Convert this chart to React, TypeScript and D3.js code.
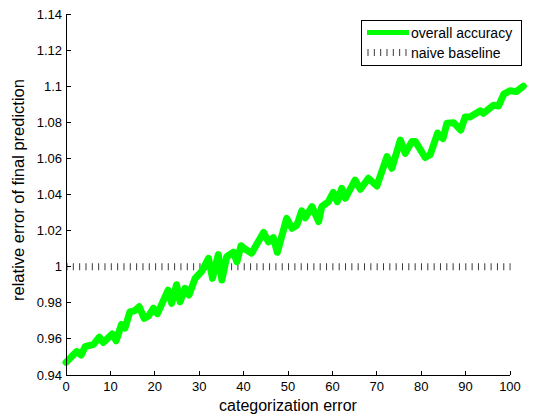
import React from "react";
import * as d3 from "d3";

// Categorization error (x) against relative error of the final prediction (y)
const errorLevels = [
  0, 2.4, 3.4, 4.3, 6.2, 7.5, 8.4, 10.4, 11.3, 12.5, 13.3, 14.4, 15.5, 16.5, 17.6,
  18.6, 19.7, 20.6, 23, 23.8, 24.9, 25.7, 26.8, 27.7, 29.1, 30.6, 32.1, 33, 34.3,
  35.1, 36.2, 37.7, 38.5, 39.4, 40.3, 41.8, 44.5, 45.6, 46.7, 47.6, 49.7, 50.9,
  52, 53.1, 53.9, 55.4, 56.9, 57.6, 59.1, 60.2, 61.1, 62.1, 62.9, 65.1, 66.3,
  68.1, 70, 72.3, 73.4, 75.3, 76.4, 77.9, 78.7, 80.9, 82, 83.7, 84.9, 85.8, 87.3,
  88.9, 89.9, 91, 93.3, 94, 96.3, 97.4, 98.6, 100, 101.4, 103,
];
const overallAccuracy = [
  0.947, 0.953, 0.951, 0.9557, 0.957, 0.961, 0.958, 0.9627, 0.959, 0.968, 0.966,
  0.975, 0.9757, 0.9778, 0.9714, 0.9727, 0.977, 0.974, 0.987, 0.9797, 0.99,
  0.9806, 0.988, 0.9843, 0.9936, 0.9976, 1.0046, 0.9936, 1.0067, 0.9926, 1.0055,
  1.008, 1.0028, 1.0116, 1.0098, 1.0075, 1.019, 1.0138, 1.016, 1.008, 1.0268,
  1.0213, 1.023, 1.0309, 1.0271, 1.0333, 1.025, 1.0333, 1.036, 1.0412, 1.036,
  1.0434, 1.0379, 1.048, 1.0429, 1.049, 1.0447, 1.061, 1.0545, 1.0702, 1.0628,
  1.0693, 1.0693, 1.0605, 1.062, 1.074, 1.071, 1.0795, 1.0798, 1.0757, 1.083,
  1.083, 1.0864, 1.085, 1.0895, 1.089, 1.0956, 1.0975, 1.097, 1.1,
];
const naiveBaseline = 1;

const xTicks = [0, 10, 20, 30, 40, 50, 60, 70, 80, 90, 100];
const yTicks = [0.94, 0.96, 0.98, 1, 1.02, 1.04, 1.06, 1.08, 1.1, 1.12, 1.14];

const legendLabels = ["overall accuracy", "naive baseline"];

const W = 539;
const H = 419;
const plot = { left: 66, right: 510, top: 14, bottom: 375 };
const font = "'Liberation Sans', Arial, Helvetica, sans-serif";
const dotColor = "#3a3a3a";

export default function App() {
  const x = d3.scaleLinear().domain([0, 100]).range([plot.left, plot.right]);
  const y = d3.scaleLinear().domain([0.94, 1.14]).range([plot.bottom, plot.top]);

  const points = errorLevels.map((e, i) => [e, overallAccuracy[i]] as [number, number]);
  const linePath = d3
    .line<[number, number]>()
    .x((d) => x(d[0]))
    .y((d) => y(d[1]))(points) as string;

  const tickLen = 4.5;
  const yFmt = (v: number) => String(+v.toFixed(2));

  const leg = { x: 361, y: 20, w: 160, h: 45 };

  return (
    <svg
      width={W}
      height={H}
      viewBox={`0 0 ${W} ${H}`}
      style={{ position: "absolute", left: 0, top: 0, background: "#fff" }}
      fontFamily={font}
    >
      <rect x={0} y={0} width={W} height={H} fill="#fff" />

      {/* naive baseline */}
      <line
        x1={x(0)}
        x2={x(100)}
        y1={y(naiveBaseline)}
        y2={y(naiveBaseline)}
        stroke={dotColor}
        strokeWidth={7}
        strokeDasharray="1 5.33"
        transform="translate(0.5,0)"
      />

      {/* overall accuracy curve */}
      <path
        d={linePath}
        fill="none"
        stroke="#00ff00"
        strokeWidth={7}
        strokeLinejoin="round"
        strokeLinecap="round"
      />

      {/* axes */}
      <g stroke="#000" strokeWidth={1} shapeRendering="crispEdges">
        <line x1={plot.left} x2={plot.left} y1={plot.top} y2={plot.bottom} />
        <line x1={plot.left} x2={plot.right} y1={plot.bottom} y2={plot.bottom} />
        {yTicks.map((t) => (
          <line key={"yt" + t} x1={plot.left} x2={plot.left + tickLen} y1={y(t)} y2={y(t)} />
        ))}
        {xTicks.map((t) => (
          <line key={"xt" + t} x1={x(t)} x2={x(t)} y1={plot.bottom} y2={plot.bottom - tickLen} />
        ))}
      </g>

      <g fontSize={13} fill="#000">
        {yTicks.map((t) => (
          <text key={"yl" + t} x={plot.left - 4} y={y(t)} dy="0.35em" textAnchor="end">
            {yFmt(t)}
          </text>
        ))}
        {xTicks.map((t) => (
          <text key={"xl" + t} x={x(t)} y={plot.bottom + 16} textAnchor="middle">
            {t}
          </text>
        ))}
      </g>

      <text x={(plot.left + plot.right) / 2} y={411} fontSize={16} textAnchor="middle">
        categorization error
      </text>
      <text
        transform={`translate(24,190) rotate(-90)`}
        fontSize={16.5}
        textAnchor="middle"
      >
        relative error of final prediction
      </text>

      {/* legend */}
      <g>
        <rect x={leg.x + 0.5} y={leg.y + 0.5} width={leg.w} height={leg.h} fill="#fff" stroke="#000" />
        <line x1={367} x2={409} y1={32.5} y2={32.5} stroke="#00ff00" strokeWidth={5} />
        <line
          x1={367}
          x2={409}
          y1={52.5}
          y2={52.5}
          stroke={dotColor}
          strokeWidth={7}
          strokeDasharray="1 5.33"
          transform="translate(0.5,0)"
        />
        <text x={411} y={37.5} fontSize={14}>
          {legendLabels[0]}
        </text>
        <text x={411} y={57.5} fontSize={14}>
          {legendLabels[1]}
        </text>
      </g>
    </svg>
  );
}
